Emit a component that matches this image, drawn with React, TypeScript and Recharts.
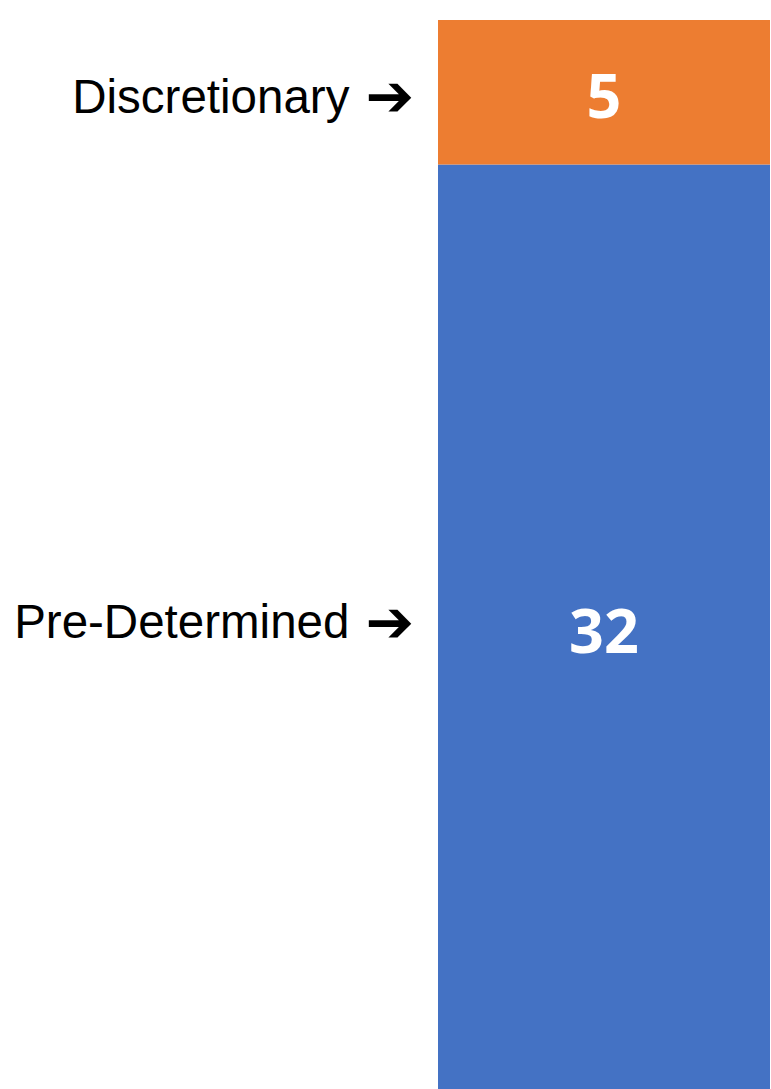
import React from 'react';
import { BarChart, Bar, XAxis, YAxis, LabelList } from 'recharts';

const categories = ['Seats'];
const preDetermined = [32];
const discretionary = [5];
const seriesNames = ['Pre-Determined', 'Discretionary'];

const data = categories.map((name, i) => ({
  name,
  pre: preDetermined[i],
  disc: discretionary[i],
}));

// side label with arrow, dy nudges it off the segment centre
const SideLabel = (text: string, dy: number) => (props: any) => {
  const { x, y, height } = props;
  return (
    <text
      x={Number(x) - 24}
      y={Number(y) + Number(height) / 2 + dy}
      textAnchor="end"
      dominantBaseline="central"
      fontFamily="'Liberation Sans', Arial, sans-serif"
      fontSize={47.5}
      fill="#000"
    >
      {text}
      <tspan dx={16} fontFamily="'DejaVu Sans'" fontWeight="bold" fontSize={58}>➔</tspan>
    </text>
  );
};

const ValueLabel = (dy: number) => (props: any) => {
  const { x, y, width, height, value } = props;
  return (
    <text
      x={Number(x) + Number(width) / 2}
      y={Number(y) + Number(height) / 2 + dy}
      textAnchor="middle"
      dominantBaseline="central"
      fontFamily="'Open Sans', sans-serif"
      fontWeight="bold"
      fontSize={61}
      fill="#fff"
    >
      {value}
    </text>
  );
};

export default function App() {
  return (
    <div style={{ position: 'absolute', left: 0, top: 0, width: 771, height: 1089, background: '#fff' }}>
      <BarChart
        width={771}
        height={1089}
        data={data}
        margin={{ top: 20, right: 1, bottom: 0, left: 438 }}
        barCategoryGap={0}
      >
        <XAxis dataKey="name" hide />
        <YAxis hide domain={[0, 37]} />
        <Bar dataKey="pre" stackId="a" fill="#4472C4" isAnimationActive={false}>
          <LabelList dataKey="pre" content={ValueLabel(3)} />
          <LabelList dataKey="pre" content={SideLabel(seriesNames[0], -5)} />
        </Bar>
        <Bar dataKey="disc" stackId="a" fill="#ED7D31" isAnimationActive={false}>
          <LabelList dataKey="disc" content={ValueLabel(2)} />
          <LabelList dataKey="disc" content={SideLabel(seriesNames[1], 4)} />
        </Bar>
      </BarChart>
    </div>
  );
}
